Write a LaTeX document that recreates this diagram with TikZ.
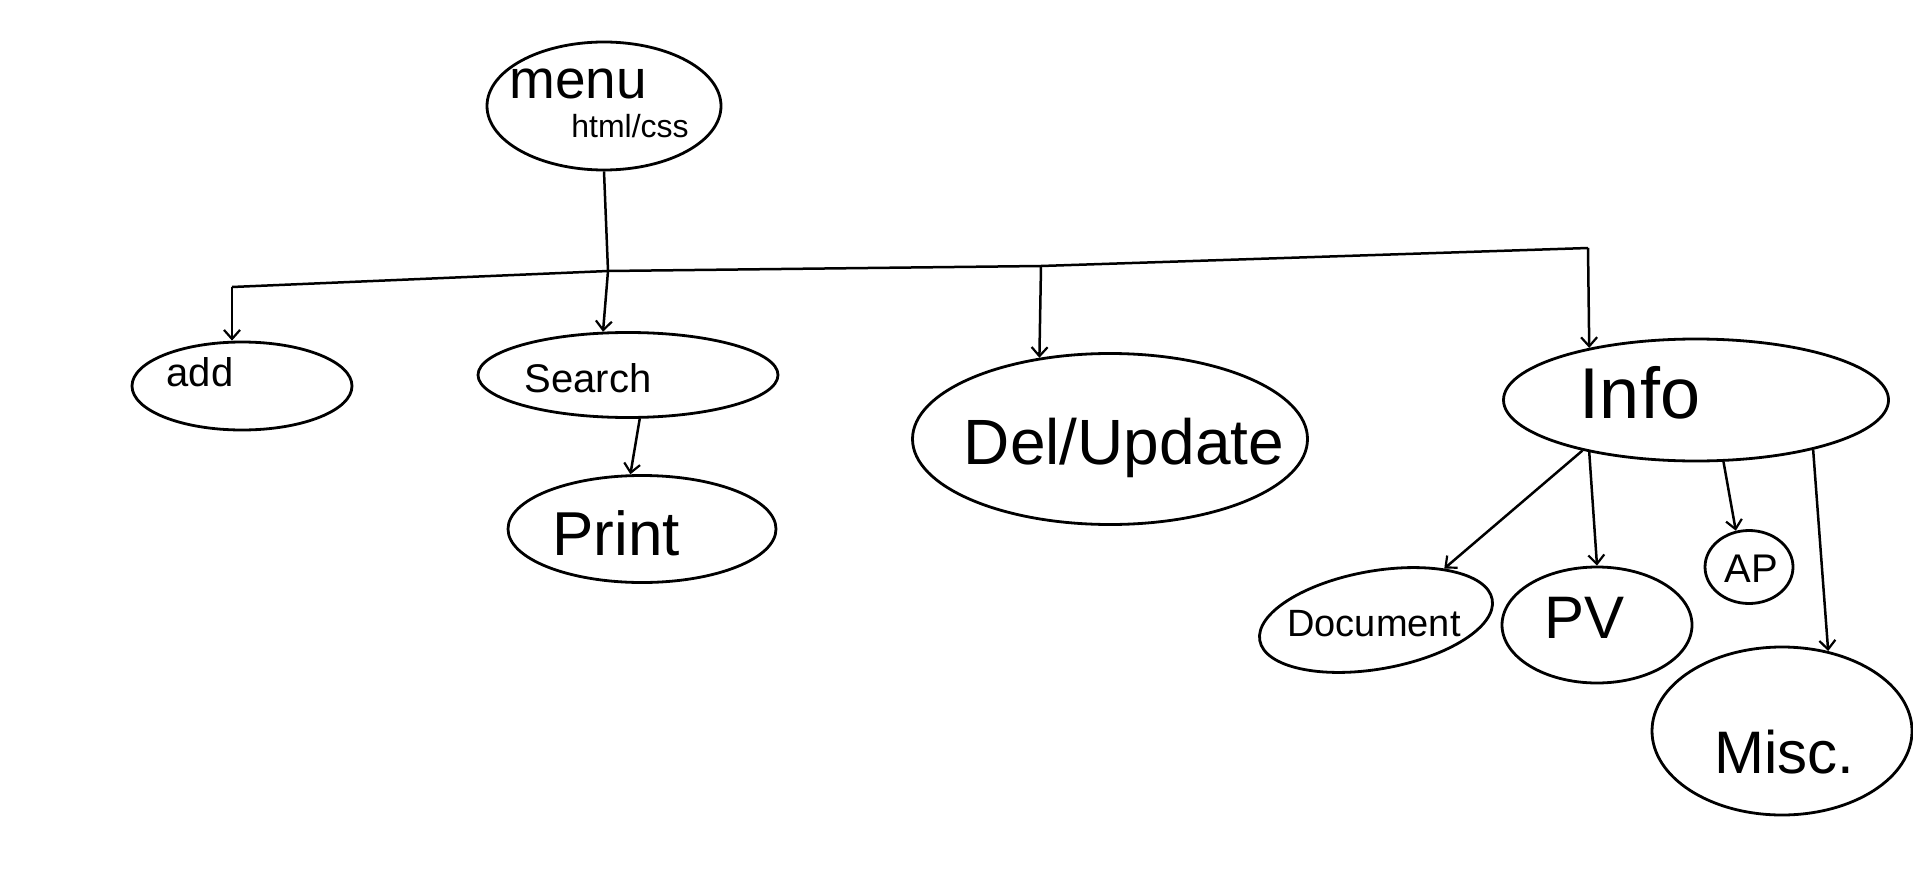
\documentclass[tikz,border=0pt]{standalone}
\usepackage{fontspec}
\setmainfont{Liberation Sans}
\usetikzlibrary{shapes.geometric,arrows.meta}
\begin{document}
\begin{tikzpicture}[x=1pt,y=-1pt,
  oval/.style={ellipse,draw,line width=2.8pt,inner sep=0pt},
  lbl/.style={inner sep=0pt,anchor=center},
  conn/.style={line width=2.5pt,line join=round},
  arr/.style={line width=2.5pt,-{Straight Barb[length=9pt,width=16pt,line width=2.2pt]}}]
\useasboundingbox (0,0) rectangle (1913,869);
% ellipses
\node[oval,minimum width=234pt,minimum height=128pt] (menu) at (604,106) {};
\node[oval,minimum width=220pt,minimum height=88pt] (add) at (242,386) {};
\node[oval,minimum width=300pt,minimum height=85pt] (search) at (628,375) {};
\node[oval,minimum width=268pt,minimum height=107pt] (print) at (642,529) {};
\node[oval,minimum width=395pt,minimum height=171pt] (del) at (1110,439) {};
\node[oval,minimum width=385pt,minimum height=122pt] (info) at (1696,400) {};
\node[oval,minimum width=236pt,minimum height=98pt,rotate=10] (doc) at (1376,620) {};
\node[oval,minimum width=190pt,minimum height=116pt] (pv) at (1597,625) {};
\node[oval,minimum width=88pt,minimum height=73pt] (ap) at (1749,567) {};
\node[oval,minimum width=260pt,minimum height=168pt] (misc) at (1782,731) {};
% labels
\node[lbl,font=\fontsize{55}{60}\selectfont] (menuT) at (578,84) {menu};
\node[lbl,font=\fontsize{32}{38}\selectfont] (cssT) at (630,126) {html/css};
\node[lbl,font=\fontsize{40}{46}\selectfont] (addT) at (200,372) {add};
\node[lbl,font=\fontsize{40}{46}\selectfont] (searchT) at (588,378) {Search};
\node[lbl,font=\fontsize{62}{70}\selectfont] (printT) at (616,533) {Print};
\node[lbl,font=\fontsize{64}{72}\selectfont] (delT) at (1124,448) {Del/Update};
\node[lbl,font=\fontsize{72}{80}\selectfont] (infoT) at (1640,393) {Info};
\node[lbl,font=\fontsize{38}{44}\selectfont] (docT) at (1374,624) {Document};
\node[lbl,font=\fontsize{60}{66}\selectfont] (pvT) at (1584,618) {PV};
\node[lbl,font=\fontsize{40}{46}\selectfont] (apT) at (1751,569) {AP};
\node[lbl,font=\fontsize{60}{66}\selectfont] (miscT) at (1784,752) {Misc.};
% bus coordinates
\coordinate (A) at (232,287);
\coordinate (J) at (608,271);
\coordinate (D) at (1041,266);
\coordinate (I) at (1588,248);
% connectors
\draw[conn] (menu.south) -- (J);
\draw[conn] (A) -- (J) -- (D) -- (I);
\draw[arr] (A) -- (add.north -| A);
\draw[arr] (J) -- (search.120);
\draw[arr] (D) -- (del.131);
\draw[arr] (I) -- (info.154);
\draw[arr] (search.285) -- (print.102);
\draw[arr] (info.204) -- (doc.27);
\draw[arr] (info.206) -- (pv.north);
\draw[arr] (info.294) -- (ap.110);
\draw[arr] (info.337) -- (misc.60);
\end{tikzpicture}
\end{document}
